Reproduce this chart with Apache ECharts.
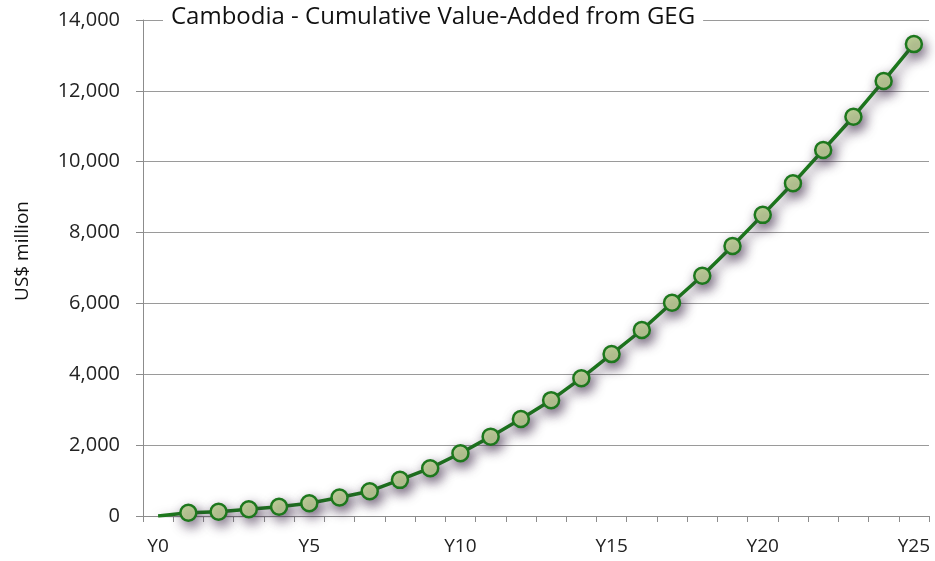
<!DOCTYPE html>
<html>
<head>
<meta charset="utf-8">
<script src="https://cdn.jsdelivr.net/npm/echarts@6/dist/echarts.min.js"></script>
<style>
html,body{margin:0;padding:0;background:#fff;}
#chart{width:935px;height:561px;}
</style>
</head>
<body>
<div id="chart"></div>
<script>
var categories = ['Y0','Y1','Y2','Y3','Y4','Y5','Y6','Y7','Y8','Y9','Y10','Y11','Y12','Y13','Y14','Y15','Y16','Y17','Y18','Y19','Y20','Y21','Y22','Y23','Y24','Y25'];
var cumulativeValue = [0, 90, 120, 190, 260, 360, 520, 700, 1020, 1350, 1770, 2240, 2740, 3270, 3890, 4570, 5250, 6020, 6780, 7620, 8500, 9390, 10330, 11270, 12280, 13320];
var titleText = 'Cambodia - Cumulative Value-Added from GEG';
var yAxisName = 'US$ million';

var FONT = 'Open Sans';
var seriesData = cumulativeValue.map(function (v, i) {
  return i === 0 ? { value: v, symbol: 'none' } : v;
});

var SHADOW = 'rgba(60,40,70,0.65)';
var chart = echarts.init(document.getElementById('chart'), null, { renderer: 'canvas' });
chart.setOption({
  backgroundColor: '#ffffff',
  animation: false,
  title: {
    text: titleText,
    left: 163,
    top: 5,
    padding: [0, 8, 0, 8],
    backgroundColor: '#ffffff',
    textStyle: { fontFamily: FONT, fontSize: 24, fontWeight: 'normal', color: '#111' }
  },
  grid: { left: 143, right: 6, top: 20, bottom: 45, containLabel: false },
  xAxis: {
    type: 'category',
    data: categories,
    boundaryGap: true,
    axisLine: { show: true, lineStyle: { color: '#8c8c8c', width: 1 } },
    axisTick: { show: true, interval: 0, length: 6, lineStyle: { color: '#8c8c8c' } },
    axisLabel: { interval: 4, margin: 21, fontFamily: FONT, fontSize: 19, color: '#222' },
    splitLine: { show: false }
  },
  yAxis: {
    type: 'value',
    min: 0,
    max: 14000,
    interval: 2000,
    name: yAxisName,
    nameLocation: 'middle',
    nameGap: 111,
    nameRotate: 90,
    nameTextStyle: { fontFamily: FONT, fontSize: 19, color: '#111', padding: [0, 0, 0, 34] },
    axisLine: { show: true, lineStyle: { color: '#8c8c8c', width: 1 } },
    axisTick: { show: true, length: 7, lineStyle: { color: '#8c8c8c' } },
    axisLabel: {
      margin: 23, fontFamily: FONT, fontSize: 20, color: '#222',
      formatter: function (v) { return v.toLocaleString('en-US'); }
    },
    splitLine: { show: true, lineStyle: { color: '#9a9a9a', width: 1 } }
  },
  series: [{
    type: 'line',
    data: seriesData,
    symbol: 'circle',
    symbolSize: 16,
    smooth: false,
    lineStyle: {
      color: '#1d781d', width: 3.5,
      shadowColor: SHADOW, shadowBlur: 12, shadowOffsetX: 3, shadowOffsetY: 5
    },
    itemStyle: {
      color: '#c4d79b', borderColor: '#1d781d', borderWidth: 2.5,
      shadowColor: SHADOW, shadowBlur: 12, shadowOffsetX: 3, shadowOffsetY: 5
    },
    z: 3
  }]
});
</script>
</body>
</html>
